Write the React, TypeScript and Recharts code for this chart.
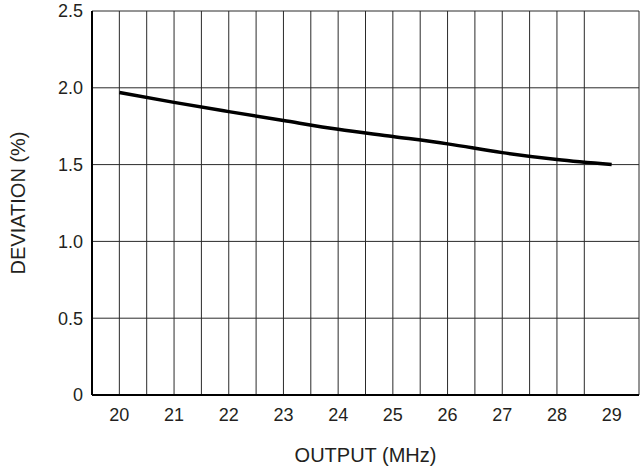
import { LineChart, Line, XAxis, YAxis, CartesianGrid, Label } from "recharts";

const outputMHz = [20, 21, 22, 23, 24, 25, 26, 27, 28, 29];
const deviationPct = [1.97, 1.905, 1.845, 1.787, 1.73, 1.683, 1.635, 1.578, 1.533, 1.5];

const xTicks = [20, 21, 22, 23, 24, 25, 26, 27, 28, 29];
const yTicks = [0, 0.5, 1.0, 1.5, 2.0, 2.5];
const xGrid = [20, 20.5, 21, 21.5, 22, 22.5, 23, 23.5, 24, 24.5, 25, 25.5, 26, 26.5, 27, 27.5, 28, 28.5, 29, 29.5];
const yGrid = [0.5, 1.0, 1.5, 2.0, 2.5];

const data = outputMHz.map((x, i) => ({ x, y: deviationPct[i] }));

const font = "'Liberation Sans', Arial, Helvetica, sans-serif";
const ink = "#231f20";

export default function App() {
  return (
    <div style={{ position: "absolute", left: 0, top: 0, width: 642, height: 469, background: "#fff" }}>
      <LineChart
        width={642}
        height={469}
        data={data}
        margin={{ top: 11, right: 3, left: 0, bottom: 0 }}
        style={{ fontFamily: font }}
      >
        <CartesianGrid
          stroke="#2a2a2a"
          strokeWidth={1}
          verticalValues={xGrid}
          horizontalValues={yGrid}
        />
        <XAxis
          dataKey="x"
          type="number"
          domain={[19.5, 29.5]}
          ticks={xTicks}
          height={74}
          tickLine={false}
          tickSize={0}
          tickMargin={13}
          axisLine={{ stroke: "#000", strokeWidth: 2 }}
          tick={{ fill: ink, fontSize: 18 }}
        >
          <Label value="OUTPUT (MHz)" position="insideBottom" offset={7} fill={ink} fontSize={20} />
        </XAxis>
        <YAxis
          type="number"
          domain={[0, 2.5]}
          ticks={yTicks}
          width={92}
          tickLine={false}
          tickSize={0}
          tickMargin={9}
          axisLine={{ stroke: "#000", strokeWidth: 2 }}
          tick={{ fill: ink, fontSize: 18 }}
          tickFormatter={(v: number) => (v === 0 ? "0" : v.toFixed(1))}
        >
          <Label value="DEVIATION (%)" angle={-90} position="center" dx={-28} fill={ink} fontSize={20} />
        </YAxis>
        <Line
          type="monotone"
          dataKey="y"
          stroke="#000"
          strokeWidth={3.5}
          dot={false}
          isAnimationActive={false}
        />
      </LineChart>
    </div>
  );
}
